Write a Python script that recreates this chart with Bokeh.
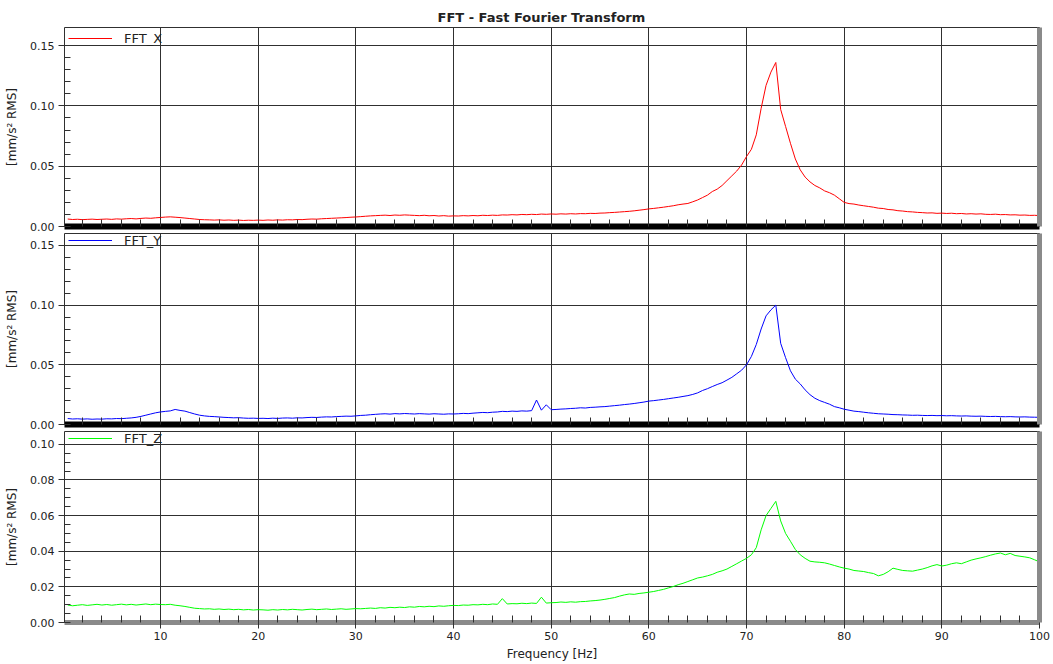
import numpy as np
from bokeh.plotting import figure
from bokeh.layouts import column
from bokeh.models import SingleIntervalTicker, FixedTicker, NumeralTickFormatter, Range1d, LinearAxis
from bokeh.embed import file_html
from bokeh.resources import INLINE

# ---------------- data ----------------
freq_hz = np.round(np.arange(0.5, 100.01, 0.5), 2)

fft_x = [
    0.0062, 0.0058, 0.0060, 0.0057, 0.0059, 0.0061, 0.0058, 0.0060, 0.0062, 0.0059,
    0.0063, 0.0061, 0.0064, 0.0066, 0.0063, 0.0067, 0.0070, 0.0068, 0.0072, 0.0075,
    0.0078, 0.0080, 0.0077, 0.0074, 0.0070, 0.0066, 0.0062, 0.0058, 0.0056, 0.0055,
    0.0053, 0.0055, 0.0052, 0.0054, 0.0051, 0.0053, 0.0050, 0.0052, 0.0051, 0.0053,
    0.0051, 0.0054, 0.0052, 0.0055, 0.0053, 0.0056, 0.0055, 0.0058, 0.0057, 0.0060,
    0.0062, 0.0061, 0.0064, 0.0066, 0.0068, 0.0070, 0.0072, 0.0074, 0.0077, 0.0079,
    0.0082, 0.0085, 0.0088, 0.0090, 0.0092, 0.0094, 0.0091, 0.0095, 0.0093, 0.0096,
    0.0094, 0.0092, 0.0090, 0.0093, 0.0089, 0.0091, 0.0087, 0.0090, 0.0086, 0.0088,
    0.0087, 0.0090, 0.0088, 0.0091, 0.0089, 0.0093, 0.0091, 0.0094, 0.0092, 0.0096,
    0.0095, 0.0098, 0.0096, 0.0100, 0.0098, 0.0101, 0.0099, 0.0103, 0.0101, 0.0104,
    0.0102, 0.0105, 0.0103, 0.0106, 0.0104, 0.0107, 0.0106, 0.0109, 0.0108, 0.0111,
    0.0112, 0.0115, 0.0117, 0.0120, 0.0123, 0.0126, 0.0130, 0.0135, 0.0140, 0.0146,
    0.0150, 0.0155, 0.0160, 0.0166, 0.0172, 0.0180, 0.0186, 0.0191, 0.0205, 0.0220,
    0.0240, 0.0260, 0.0290, 0.0310, 0.0340, 0.0380, 0.0420, 0.0460, 0.0510, 0.0580,
    0.0640, 0.0760, 0.0980, 0.1170, 0.1280, 0.1360, 0.0970, 0.0830, 0.0690, 0.0560,
    0.0470, 0.0410, 0.0370, 0.0340, 0.0320, 0.0295, 0.0280, 0.0260, 0.0230, 0.0200,
    0.0190, 0.0186, 0.0178, 0.0172, 0.0166, 0.0160, 0.0152, 0.0149, 0.0141, 0.0138,
    0.0131, 0.0128, 0.0123, 0.0121, 0.0117, 0.0115, 0.0112, 0.0113, 0.0109, 0.0111,
    0.0108, 0.0110, 0.0106, 0.0108, 0.0104, 0.0106, 0.0103, 0.0105, 0.0101, 0.0100,
    0.0102, 0.0098, 0.0099, 0.0096, 0.0097, 0.0094, 0.0095, 0.0092, 0.0093, 0.0090,
]

fft_y = [
    0.0050, 0.0046, 0.0048, 0.0045, 0.0047, 0.0044, 0.0046, 0.0045, 0.0048, 0.0047,
    0.0050, 0.0049, 0.0052, 0.0055, 0.0060, 0.0068, 0.0078, 0.0088, 0.0098, 0.0105,
    0.0110, 0.0114, 0.0126, 0.0118, 0.0112, 0.0100, 0.0088, 0.0078, 0.0072, 0.0068,
    0.0066, 0.0063, 0.0060, 0.0058, 0.0056, 0.0057, 0.0054, 0.0052, 0.0053, 0.0051,
    0.0052, 0.0050, 0.0053, 0.0051, 0.0054, 0.0055, 0.0053, 0.0056, 0.0055, 0.0058,
    0.0060, 0.0059, 0.0062, 0.0064, 0.0063, 0.0066, 0.0068, 0.0070, 0.0069, 0.0072,
    0.0076, 0.0078, 0.0082, 0.0085, 0.0088, 0.0090, 0.0087, 0.0091, 0.0089, 0.0092,
    0.0090, 0.0088, 0.0091, 0.0089, 0.0087, 0.0090, 0.0088, 0.0086, 0.0089, 0.0088,
    0.0090, 0.0093, 0.0091, 0.0095, 0.0098, 0.0101, 0.0099, 0.0103, 0.0105, 0.0110,
    0.0108, 0.0112, 0.0110, 0.0114, 0.0112, 0.0116, 0.0205, 0.0120, 0.0165, 0.0124,
    0.0126, 0.0129, 0.0131, 0.0134, 0.0136, 0.0140, 0.0138, 0.0143, 0.0145, 0.0148,
    0.0150, 0.0154, 0.0158, 0.0162, 0.0167, 0.0171, 0.0176, 0.0182, 0.0188, 0.0196,
    0.0200, 0.0205, 0.0210, 0.0216, 0.0222, 0.0228, 0.0235, 0.0242, 0.0252, 0.0265,
    0.0285, 0.0300, 0.0318, 0.0335, 0.0350, 0.0372, 0.0395, 0.0425, 0.0455, 0.0500,
    0.0570, 0.0670, 0.0800, 0.0910, 0.0960, 0.1000, 0.0680, 0.0560, 0.0450, 0.0380,
    0.0340, 0.0290, 0.0250, 0.0220, 0.0200, 0.0185, 0.0170, 0.0150, 0.0140, 0.0128,
    0.0120, 0.0112, 0.0108, 0.0103, 0.0098, 0.0094, 0.0090, 0.0088, 0.0086, 0.0083,
    0.0082, 0.0080, 0.0079, 0.0077, 0.0078, 0.0076, 0.0075, 0.0076, 0.0074, 0.0075,
    0.0073, 0.0074, 0.0072, 0.0071, 0.0072, 0.0070, 0.0069, 0.0070, 0.0068, 0.0067,
    0.0068, 0.0066, 0.0065, 0.0066, 0.0064, 0.0063, 0.0064, 0.0062, 0.0061, 0.0060,
]

fft_z = [
    0.0098, 0.0094, 0.0097, 0.0100, 0.0096, 0.0099, 0.0102, 0.0098, 0.0101, 0.0097,
    0.0100, 0.0103, 0.0099, 0.0102, 0.0098, 0.0101, 0.0104, 0.0100, 0.0103, 0.0101,
    0.0100, 0.0102, 0.0097, 0.0094, 0.0090, 0.0085, 0.0080, 0.0078, 0.0076, 0.0077,
    0.0074, 0.0076, 0.0073, 0.0075, 0.0072, 0.0074, 0.0071, 0.0073, 0.0070, 0.0072,
    0.0071, 0.0069, 0.0072, 0.0070, 0.0073, 0.0071, 0.0074, 0.0072, 0.0070, 0.0073,
    0.0075, 0.0072, 0.0074, 0.0076, 0.0073, 0.0075, 0.0077, 0.0074, 0.0076, 0.0078,
    0.0077, 0.0079, 0.0081, 0.0079, 0.0083, 0.0081, 0.0085, 0.0083, 0.0086, 0.0084,
    0.0088, 0.0086, 0.0090, 0.0088, 0.0091, 0.0089, 0.0093, 0.0091, 0.0094, 0.0096,
    0.0095, 0.0098, 0.0097, 0.0100, 0.0099, 0.0102, 0.0100, 0.0104, 0.0102, 0.0134,
    0.0104, 0.0106, 0.0105, 0.0108, 0.0106, 0.0109, 0.0107, 0.0142, 0.0109, 0.0111,
    0.0112, 0.0115, 0.0113, 0.0116, 0.0114, 0.0117, 0.0118, 0.0121, 0.0123, 0.0126,
    0.0130, 0.0135, 0.0140, 0.0148, 0.0155, 0.0160, 0.0158, 0.0163, 0.0166, 0.0170,
    0.0174, 0.0180, 0.0186, 0.0194, 0.0202, 0.0212, 0.0220, 0.0230, 0.0240, 0.0250,
    0.0255, 0.0262, 0.0270, 0.0282, 0.0290, 0.0300, 0.0315, 0.0330, 0.0345, 0.0360,
    0.0380, 0.0420, 0.0520, 0.0600, 0.0640, 0.0680, 0.0570, 0.0500, 0.0456, 0.0410,
    0.0380, 0.0360, 0.0344, 0.0340, 0.0338, 0.0335, 0.0328, 0.0320, 0.0312, 0.0305,
    0.0300, 0.0292, 0.0289, 0.0286, 0.0280, 0.0275, 0.0262, 0.0270, 0.0285, 0.0305,
    0.0298, 0.0292, 0.0290, 0.0288, 0.0294, 0.0300, 0.0308, 0.0318, 0.0325, 0.0317,
    0.0322, 0.0330, 0.0335, 0.0330, 0.0340, 0.0350, 0.0357, 0.0363, 0.0370, 0.0378,
    0.0385, 0.0390, 0.0380, 0.0388, 0.0376, 0.0372, 0.0368, 0.0363, 0.0352, 0.0340,
]

series_names = ["FFT_X", "FFT_Y", "FFT_Z"]
series_colors = ["#ff0000", "#0000ff", "#00ff00"]
series_values = [fft_x, fft_y, fft_z]
y_top_tick = [0.15, 0.15, 0.10]
y_range_end = [0.165, 0.160, 0.1072]
y_major_step = [0.05, 0.05, 0.02]
y_minor_count = [5, 5, 4]
x_major_step = 10
x_minor_count = 5
x_minor_positions = list(range(2, 100, 2))
title_text = "FFT - Fast Fourier Transform"
x_label = "Frequency [Hz]"
y_label = "[mm/s² RMS]"

# ---------------- style ----------------
FONT = "DejaVu Sans"
TXT = "#222222"
GRID = "#303030"
frame_heights = [199, 191, 191]
legend_top_gap = [4, 0, 0]
LEGEND_H = 15

x_range = Range1d(0.17, 100)
figs = []
for i in range(3):
    last = (i == 2)
    first = (i == 0)
    p = figure(
        frame_width=975, frame_height=frame_heights[i],
        x_range=x_range, y_range=Range1d(0, y_range_end[i]),
        output_backend="svg", toolbar_location=None,
        min_border_left=64, min_border_right=14,
        min_border_top=27 if first else 0,
        min_border_bottom=42 if last else 7,
        background_fill_color="white", border_fill_color="white",
    )
    if first:
        p.title.text = title_text
        p.title.align = "left"
        p.title.offset = 373
        p.title.text_font = FONT
        p.title.text_font_size = "13px"
        p.title.text_font_style = "bold"
        p.title.text_color = TXT
        p.title.standoff = 6
    p.outline_line_color = GRID
    p.outline_line_width = 1

    p.line(freq_hz, series_values[i], line_color=series_colors[i], line_width=1,
           legend_label=series_names[i])

    # y axis
    yt = SingleIntervalTicker(interval=y_major_step[i], num_minor_ticks=y_minor_count[i])
    ya = p.yaxis[0]
    ya.ticker = yt
    ya.bounds = (0, y_top_tick[i] + 1e-6)
    ya.formatter = NumeralTickFormatter(format="0.00")
    ya.major_label_text_font = FONT
    ya.major_label_text_font_size = "11px"
    ya.major_label_text_color = TXT
    ya.major_tick_out = 6
    ya.major_tick_in = 0
    ya.minor_tick_in = 6
    ya.minor_tick_out = 0
    ya.major_tick_line_color = GRID
    ya.minor_tick_line_color = GRID
    ya.axis_line_color = GRID
    ya.major_label_standoff = 4
    ya.axis_label = y_label
    ya.axis_label_text_font = FONT
    ya.axis_label_text_font_size = "12px"
    ya.axis_label_text_font_style = "normal"
    ya.axis_label_text_color = TXT
    ya.axis_label_standoff = 8

    # right-hand shadow edge
    shadow = LinearAxis(ticker=FixedTicker(ticks=[]), axis_line_color="#8a8a8a",
                        axis_line_width=5, major_tick_out=0, major_tick_in=0,
                        minor_tick_out=0, minor_tick_in=0, major_label_standoff=0)
    p.add_layout(shadow, "right")

    # x axis
    xt = SingleIntervalTicker(interval=x_major_step, num_minor_ticks=x_minor_count)
    xa = p.xaxis[0]
    xa.minor_tick_in = 7
    xa.minor_tick_out = 0
    xa.major_tick_in = 7
    xa.major_tick_line_color = GRID
    xa.minor_tick_line_color = GRID
    if last:
        xa.ticker = xt
        xa.major_tick_out = 6
        xa.axis_line_color = "#8a8a8a"
        xa.axis_line_width = 5
        xa.major_label_text_font = FONT
        xa.major_label_text_font_size = "11px"
        xa.major_label_text_color = TXT
        xa.major_label_standoff = 3
        xa.axis_label = x_label
        xa.axis_label_text_font = FONT
        xa.axis_label_text_font_size = "12px"
        xa.axis_label_text_font_style = "normal"
        xa.axis_label_text_color = TXT
        xa.axis_label_standoff = 4
    else:
        xa.ticker = FixedTicker(ticks=[], minor_ticks=x_minor_positions)
        xa.major_tick_out = 0
        xa.axis_line_color = "black"
        xa.axis_line_width = 6
        xa.major_label_standoff = 0

    p.xgrid.ticker = xt
    p.ygrid.ticker = yt
    p.xgrid.grid_line_color = GRID
    p.ygrid.grid_line_color = GRID
    p.xgrid.grid_line_width = 1
    p.ygrid.grid_line_width = 1

    lg = p.legend[0]
    lg.location = (4, frame_heights[i] - legend_top_gap[i] - LEGEND_H + 0.5)
    lg.background_fill_alpha = 0
    lg.border_line_alpha = 0
    lg.label_text_font = FONT
    lg.label_text_font_size = "13px"
    lg.label_text_color = TXT
    lg.glyph_width = 44
    lg.glyph_height = 14
    lg.label_height = 14
    lg.label_standoff = 12
    lg.margin = 0
    lg.padding = 0
    lg.spacing = 0

    figs.append(p)

layout = column(*figs, spacing=0)
open("out.html", "w").write(file_html(layout, INLINE))
